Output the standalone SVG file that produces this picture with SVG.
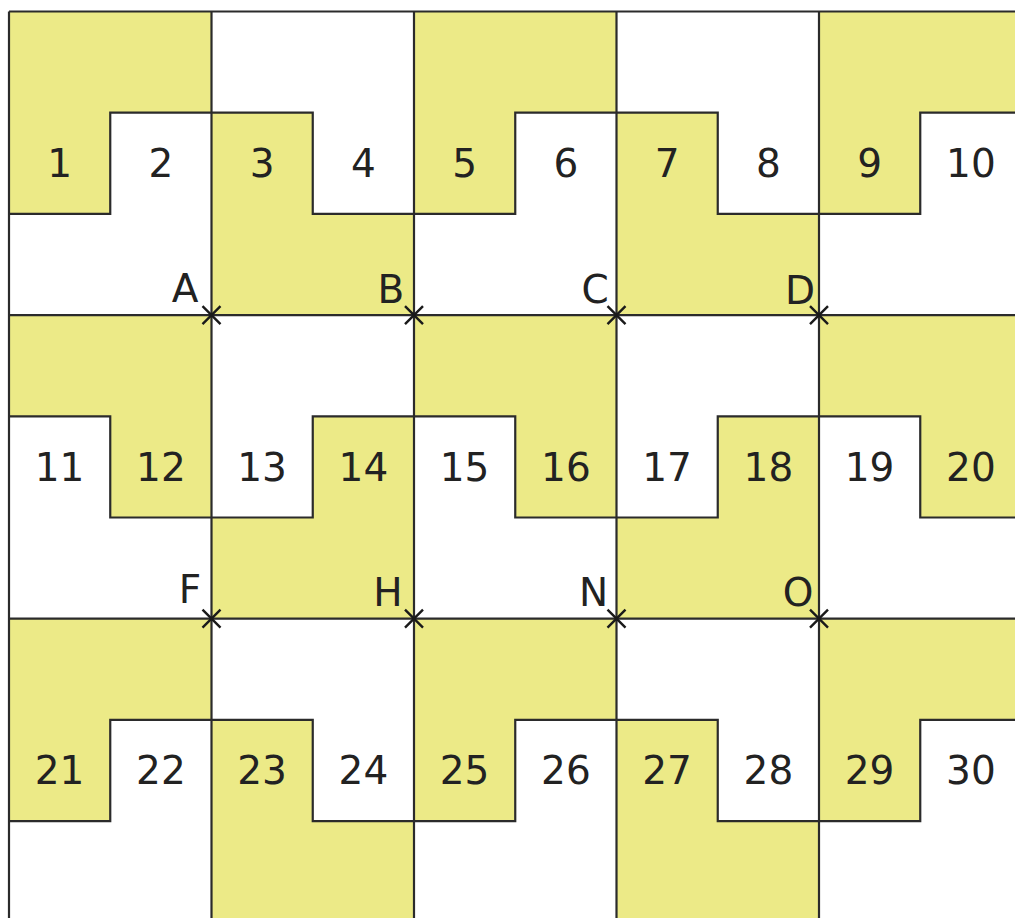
<svg xmlns="http://www.w3.org/2000/svg" width="1015" height="918" viewBox="0 0 1015 918">
<style>
.y{fill:#ecea87;stroke:none}
.ln{fill:none;stroke:#2b2b2b;stroke-width:2.2;stroke-linejoin:miter}
.num{font-family:"DejaVu Sans",sans-serif;font-size:39px;fill:#222;text-anchor:middle}
.pt{font-family:"DejaVu Sans",sans-serif;font-size:39px;fill:#222;text-anchor:middle}
.x{stroke:#1a1a1a;stroke-width:2.4;fill:none}
</style>
<defs>
<path id="cross" class="x" d="M-9,-9 L9,9 M-9,9 L9,-9"/>
</defs>
<rect x="0" y="0" width="1015" height="918" fill="#ffffff"/>
<g id="regions">
<g id="region-1"><polygon class="y" points="9,11.5 211.5,11.5 211.5,112.7 110.25,112.7 110.25,213.9 9,213.9"/></g>
<g id="region-3"><polygon class="y" points="211.5,112.7 312.75,112.7 312.75,213.9 414,213.9 414,315.1 211.5,315.1"/></g>
<g id="region-5"><polygon class="y" points="414,11.5 616.5,11.5 616.5,112.7 515.25,112.7 515.25,213.9 414,213.9"/></g>
<g id="region-7"><polygon class="y" points="616.5,112.7 717.75,112.7 717.75,213.9 819,213.9 819,315.1 616.5,315.1"/></g>
<g id="region-9"><polygon class="y" points="819,11.5 1021.5,11.5 1021.5,112.7 920.25,112.7 920.25,213.9 819,213.9"/></g>
<g id="region-12"><polygon class="y" points="9,315.1 211.5,315.1 211.5,517.5 110.25,517.5 110.25,416.3 9,416.3"/></g>
<g id="region-14"><polygon class="y" points="312.75,416.3 414,416.3 414,618.7 211.5,618.7 211.5,517.5 312.75,517.5"/></g>
<g id="region-16"><polygon class="y" points="414,315.1 616.5,315.1 616.5,517.5 515.25,517.5 515.25,416.3 414,416.3"/></g>
<g id="region-18"><polygon class="y" points="717.75,416.3 819,416.3 819,618.7 616.5,618.7 616.5,517.5 717.75,517.5"/></g>
<g id="region-20"><polygon class="y" points="819,315.1 1021.5,315.1 1021.5,517.5 920.25,517.5 920.25,416.3 819,416.3"/></g>
<g id="region-21"><polygon class="y" points="9,618.7 211.5,618.7 211.5,719.9 110.25,719.9 110.25,821.1 9,821.1"/></g>
<g id="region-23"><polygon class="y" points="211.5,719.9 312.75,719.9 312.75,821.1 414,821.1 414,922.3 211.5,922.3"/></g>
<g id="region-25"><polygon class="y" points="414,618.7 616.5,618.7 616.5,719.9 515.25,719.9 515.25,821.1 414,821.1"/></g>
<g id="region-27"><polygon class="y" points="616.5,719.9 717.75,719.9 717.75,821.1 819,821.1 819,922.3 616.5,922.3"/></g>
<g id="region-29"><polygon class="y" points="819,618.7 1021.5,618.7 1021.5,719.9 920.25,719.9 920.25,821.1 819,821.1"/></g>
</g>
<g id="lines">
<path class="ln" d="M9,11.5 V922 M211.5,11.5 V922 M414,11.5 V922 M616.5,11.5 V922 M819,11.5 V922"/>
<path class="ln" d="M9,11.5 H1021.5 M9,315.1 H1021.5 M9,618.7 H1021.5"/>
<polyline class="ln" points="9,213.9 110.25,213.9 110.25,112.7 312.75,112.7 312.75,213.9 515.25,213.9 515.25,112.7 717.75,112.7 717.75,213.9 920.25,213.9 920.25,112.7 1021.5,112.7"/>
<polyline class="ln" points="9,416.3 110.25,416.3 110.25,517.5 312.75,517.5 312.75,416.3 515.25,416.3 515.25,517.5 717.75,517.5 717.75,416.3 920.25,416.3 920.25,517.5 1021.5,517.5"/>
<polyline class="ln" points="9,821.1 110.25,821.1 110.25,719.9 312.75,719.9 312.75,821.1 515.25,821.1 515.25,719.9 717.75,719.9 717.75,821.1 920.25,821.1 920.25,719.9 1021.5,719.9"/>
</g>
<g id="numbers">
<text class="num" x="59.6" y="177.2">1</text>
<text class="num" x="160.9" y="177.2">2</text>
<text class="num" x="262.1" y="177.2">3</text>
<text class="num" x="363.4" y="177.2">4</text>
<text class="num" x="464.6" y="177.2">5</text>
<text class="num" x="565.9" y="177.2">6</text>
<text class="num" x="667.1" y="177.2">7</text>
<text class="num" x="768.4" y="177.2">8</text>
<text class="num" x="869.6" y="177.2">9</text>
<text class="num" x="970.9" y="177.2">10</text>
<text class="num" x="59.6" y="480.8">11</text>
<text class="num" x="160.9" y="480.8">12</text>
<text class="num" x="262.1" y="480.8">13</text>
<text class="num" x="363.4" y="480.8">14</text>
<text class="num" x="464.6" y="480.8">15</text>
<text class="num" x="565.9" y="480.8">16</text>
<text class="num" x="667.1" y="480.8">17</text>
<text class="num" x="768.4" y="480.8">18</text>
<text class="num" x="869.6" y="480.8">19</text>
<text class="num" x="970.9" y="480.8">20</text>
<text class="num" x="59.6" y="784.4">21</text>
<text class="num" x="160.9" y="784.4">22</text>
<text class="num" x="262.1" y="784.4">23</text>
<text class="num" x="363.4" y="784.4">24</text>
<text class="num" x="464.6" y="784.4">25</text>
<text class="num" x="565.9" y="784.4">26</text>
<text class="num" x="667.1" y="784.4">27</text>
<text class="num" x="768.4" y="784.4">28</text>
<text class="num" x="869.6" y="784.4">29</text>
<text class="num" x="970.9" y="784.4">30</text>
</g>
<g id="points">
<g id="point-A"><use href="#cross" x="211.5" y="315.1"/><text class="pt" x="185" y="302">A</text></g>
<g id="point-B"><use href="#cross" x="414" y="315.1"/><text class="pt" x="391" y="303">B</text></g>
<g id="point-C"><use href="#cross" x="616.5" y="315.1"/><text class="pt" x="595" y="303">C</text></g>
<g id="point-D"><use href="#cross" x="819" y="315.1"/><text class="pt" x="800" y="304">D</text></g>
<g id="point-F"><use href="#cross" x="211.5" y="618.7"/><text class="pt" x="190" y="603">F</text></g>
<g id="point-H"><use href="#cross" x="414" y="618.7"/><text class="pt" x="388" y="606">H</text></g>
<g id="point-N"><use href="#cross" x="616.5" y="618.7"/><text class="pt" x="593.5" y="606">N</text></g>
<g id="point-O"><use href="#cross" x="819" y="618.7"/><text class="pt" x="798" y="606">O</text></g>
</g>
</svg>
